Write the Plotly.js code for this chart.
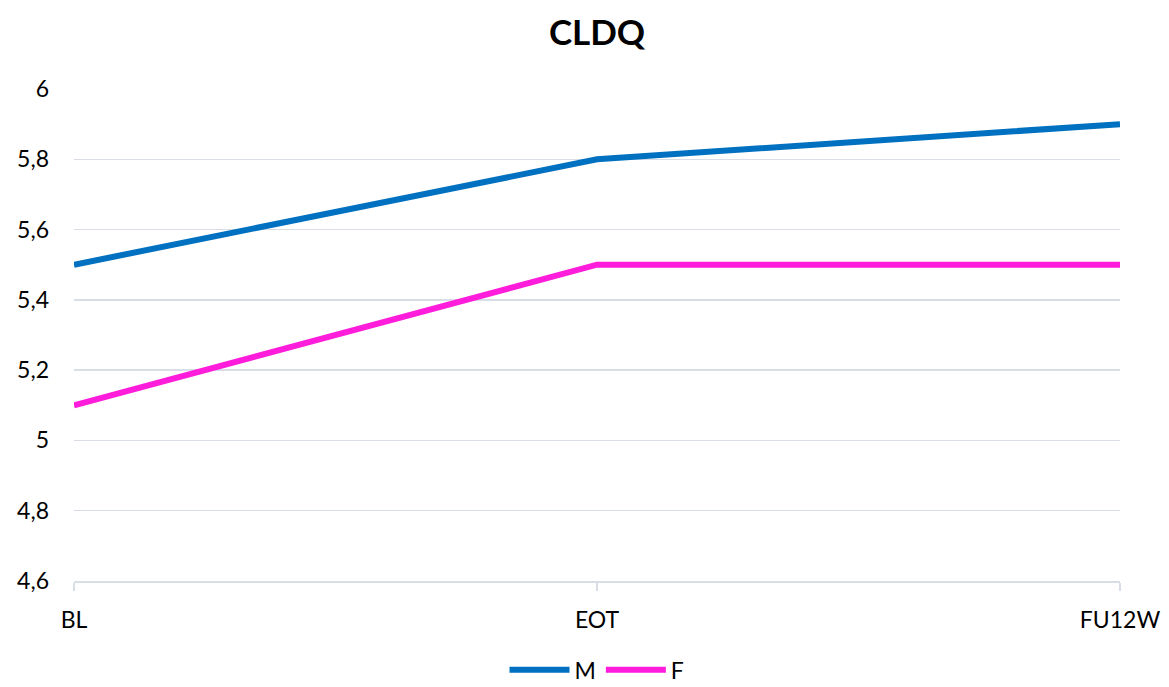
<!DOCTYPE html>
<html>
<head>
<meta charset="utf-8">
<script src="https://cdn.plot.ly/plotly-3.0.1.min.js"></script>
<style>html,body{margin:0;padding:0;background:#fff;}#chart{width:1169px;height:687px;}</style>
</head>
<body>
<div id="chart"></div>
<script>
const categories = ["BL", "EOT", "FU12W"];
const seriesM = [5.5, 5.8, 5.9];
const seriesF = [5.1, 5.5, 5.5];
const yTicks = [4.6, 4.8, 5, 5.2, 5.4, 5.6, 5.8, 6];

const FONT = "Lato, 'Open Sans', 'Liberation Sans', sans-serif";
const traces = [
  {x: categories, y: seriesM, name: "M", type: "scatter", mode: "lines",
   line: {color: "#0070C0", width: 6}},
  {x: categories, y: seriesF, name: "F", type: "scatter", mode: "lines",
   line: {color: "#FF1DDB", width: 6}}
];
const layout = {
  width: 1169, height: 687,
  separators: ",.",
  paper_bgcolor: "#fff", plot_bgcolor: "#fff",
  margin: {l: 74, r: 49, t: 89, b: 106, autoexpand: false},
  font: {family: FONT, size: 23, color: "#000"},
  title: {text: "<b>CLDQ</b>", font: {family: FONT, size: 35, color: "#000"}, xref: "paper", x: 0.5, xanchor: "center", y: 0.952, yanchor: "middle"},
  xaxis: {type: "category", range: [0, 2], showgrid: false, zeroline: false,
          showline: true, linecolor: "#D9DDE6", linewidth: 1.5,
          ticks: "outside", ticklen: 8, tickcolor: "#D9DDE6", tickwidth: 1.5,
          ticklabelstandoff: 10,
          tickfont: {family: FONT, size: 23, color: "#000"}},
  yaxis: {range: [4.6, 6], tickvals: yTicks, showgrid: true, gridcolor: "#D9DDE6", gridwidth: 1.5,
          zeroline: false, showline: false, ticks: "", ticklen: 0,
          ticklabelstandoff: 24,
          tickfont: {family: FONT, size: 23, color: "#000"}},
  showlegend: true,
  legend: {orientation: "h", x: 0.5, xanchor: "center", yref: "container", y: 0.025, yanchor: "middle",
           font: {family: FONT, size: 23, color: "#000"}, itemwidth: 60, tracegroupgap: 0}
};
Plotly.newPlot("chart", traces, layout, {displayModeBar: false, staticPlot: true});
</script>
</body>
</html>
